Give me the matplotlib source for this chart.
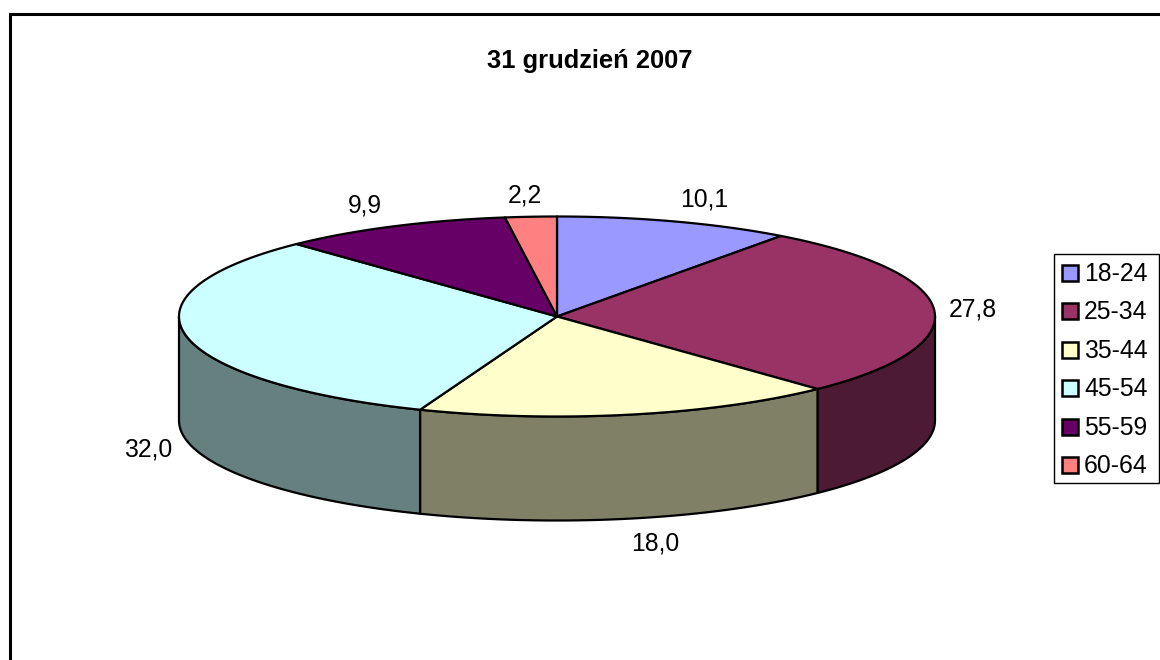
import numpy as np
import matplotlib
matplotlib.use("Agg")
import matplotlib.pyplot as plt
from matplotlib.patches import Polygon, Rectangle

plt.rcParams["font.family"] = ["Liberation Sans", "DejaVu Sans"]

title = "31 grudzień 2007"
groups = ["18-24", "25-34", "35-44", "45-54", "55-59", "60-64"]
values = [10.1, 27.8, 18.0, 32.0, 9.9, 2.2]
value_labels = ["10,1", "27,8", "18,0", "32,0", "9,9", "2,2"]
colors = ["#9999FF", "#993366", "#FFFFCC", "#CCFFFF", "#660066", "#FF8080"]
side_colors = ["#4D4D80", "#4D1A33", "#808066", "#668080", "#330033", "#804040"]

# pixel layout of the fake 3d pie
cx, cy = 557, 316.5
rx, ry = 378, 100
depth = 104
label_pos = [(704, 200), (973, 309), (655, 544), (148, 449), (365, 205), (525, 195)]


def rim(a0, a1, n=120):
    # angles are clockwise from the top, like the excel pie
    t = np.radians(np.linspace(a0, a1, n))
    return cx + rx * np.sin(t), cy - ry * np.cos(t)


fig = plt.figure(figsize=(11.6, 6.6), dpi=100)
ax = fig.add_axes([0, 0, 1, 1])
ax.set_xlim(0, 1160)
ax.set_ylim(660, 0)
ax.axis("off")

# chart frame runs off the right and bottom of the picture
ax.plot([10, 10, 1165], [665, 14, 14], color="black", linewidth=2.2, solid_joinstyle="miter")

ax.text(590, 61, title, fontsize=18.4, fontweight="bold", ha="center", va="center")

edges = np.concatenate([[0], np.cumsum(values)]) / sum(values) * 360

# side wall, only the front half of the rim shows
for i in range(len(values)):
    a0 = max(edges[i], 90)
    a1 = min(edges[i + 1], 270)
    if a1 <= a0:
        continue
    x, y = rim(a0, a1)
    pts = np.column_stack([np.r_[x, x[::-1]], np.r_[y, y[::-1] + depth]])
    ax.add_patch(Polygon(pts, closed=True, facecolor=side_colors[i], edgecolor="black",
                         linewidth=1.6, joinstyle="round", zorder=2))

# top face
for i in range(len(values)):
    x, y = rim(edges[i], edges[i + 1])
    pts = np.column_stack([np.r_[cx, x], np.r_[cy, y]])
    ax.add_patch(Polygon(pts, closed=True, facecolor=colors[i], edgecolor="black",
                         linewidth=1.6, joinstyle="round", zorder=3))

for lab, (lx, ly) in zip(value_labels, label_pos):
    ax.text(lx, ly, lab, fontsize=17.8, ha="center", va="center", zorder=4)

# legend drawn by hand so the box lands where the original has it
ax.add_patch(Rectangle((1053.5, 253.5), 105, 229.5, facecolor="white", edgecolor="black",
                       linewidth=1, zorder=2))
for i, g in enumerate(groups):
    ly = 273 + i * 38.4
    ax.add_patch(Rectangle((1062, ly - 8), 16, 16, facecolor=colors[i], edgecolor="black",
                           linewidth=1.8, zorder=3))
    ax.text(1084, ly + 1, g, fontsize=17.8, ha="left", va="center", zorder=3)

fig.savefig("out.png", dpi=100)
plt.close(fig)
